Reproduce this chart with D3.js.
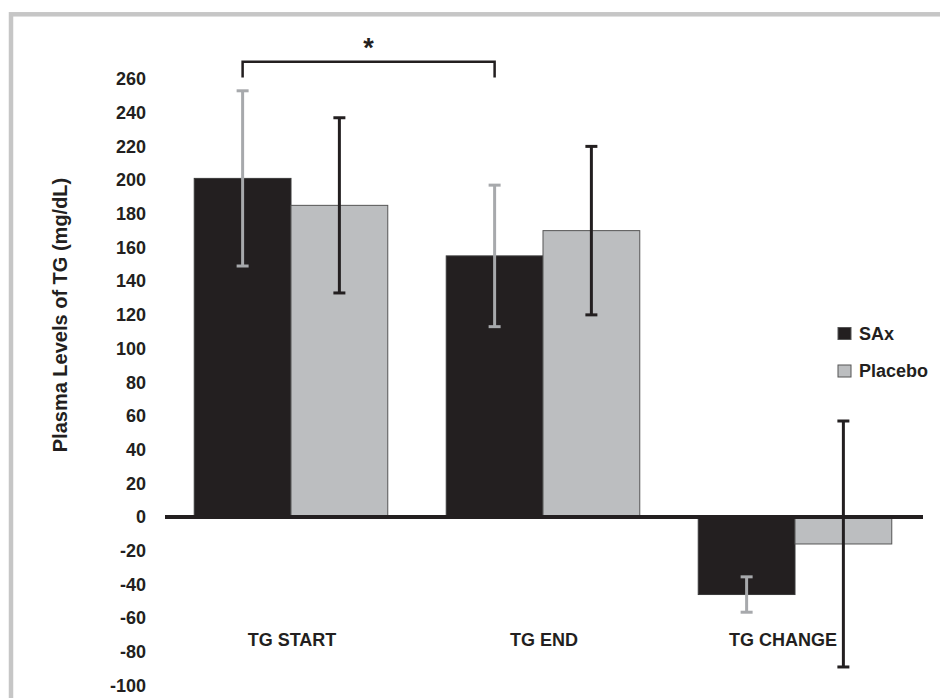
<html>
    <head>
        <meta charset="utf-8">
        <script src="https://d3js.org/d3.v7.min.js"></script>
        <style>
            body { margin: 0; background: #fff; }
            text { font-family: "Liberation Sans", Arial, sans-serif; font-weight: bold; fill: #231f20; }
        </style>
    </head>
    <body>
        <script type="text/javascript">
            // values (mean and error, mg/dL)
            const categories = ["TG START", "TG END", "TG CHANGE"];
            const seriesNames = ["SAx", "Placebo"];
            const saxMean = [201, 155, -46];
            const saxErr = [52, 42, 10.5];
            const placeboMean = [185, 170, -16];
            const placeboErr = [52, 50, 73];
            const yTicks = d3.range(-100, 261, 20);

            const width = 940;
            const height = 698;

            const fills = {SAx: "#231f20", Placebo: "#bcbec0"};
            const errColors = {SAx: "#a7a9ac", Placebo: "#231f20"};

            // build table from the arrays
            var rows = [];
            categories.forEach((c, i) => {
                rows.push({cat: c, series: "SAx", mean: saxMean[i], err: saxErr[i]});
                rows.push({cat: c, series: "Placebo", mean: placeboMean[i], err: placeboErr[i]});
            });

            const svg = d3.select('body')
                .append('svg')
                .attr('width', width)
                .attr('height', height);

            // grey frame round the figure
            svg.append("rect")
                .attr("x", 11)
                .attr("y", 14.3)
                .attr("width", 1000)
                .attr("height", 1000)
                .style("fill", "none")
                .style("stroke", "#c6c6c6")
                .style("stroke-width", 4.5);

            const x = d3.scaleBand()
                .domain(categories)
                .range([165, 921])
                .paddingInner(0.232)
                .paddingOuter(0.116);

            const xs = d3.scaleBand()
                .domain(seriesNames)
                .range([0, x.bandwidth()]);

            const y = d3.scaleLinear()
                .domain([-100, 260])
                .range([685.5, 79]);

            // y labels only, no axis line or ticks
            const yAxis = svg.append("g")
                .attr("transform", "translate(165,0)")
                .call(d3.axisLeft(y).tickValues(yTicks).tickFormat(d => String(d)).tickSize(0).tickPadding(19));
            yAxis.select(".domain").remove();
            yAxis.selectAll("text")
                .style("font-size", "18px")
                .style("font-family", "'Liberation Sans', Arial, sans-serif")
                .style("font-weight", "bold")
                .style("fill", "#231f20");

            svg.append("text")
                .attr("transform", "translate(67,315) rotate(-90)")
                .attr("text-anchor", "middle")
                .style("font-size", "20px")
                .text("Plasma Levels of TG (mg/dL)");

            // bars
            svg.selectAll("rect.bar")
                .data(rows)
                .enter()
                .append("rect")
                .attr("class", "bar")
                .attr("x", d => x(d.cat) + xs(d.series))
                .attr("width", xs.bandwidth())
                .attr("y", d => y(Math.max(0, d.mean)))
                .attr("height", d => Math.abs(y(d.mean) - y(0)))
                .style("fill", d => fills[d.series])
                .style("stroke", d => d.series == "SAx" ? "#3a3a3a" : "#555")
                .style("stroke-width", 1);

            // zero line
            svg.append("line")
                .attr("x1", x.range()[0])
                .attr("x2", x.range()[1] + 2)
                .attr("y1", y(0))
                .attr("y2", y(0))
                .style("stroke", "#231f20")
                .style("stroke-width", 4);

            // error bars
            var cx = d => x(d.cat) + xs(d.series) + xs.bandwidth() / 2;
            var eb = svg.selectAll("g.err")
                .data(rows)
                .enter()
                .append("g")
                .attr("class", "err")
                .style("stroke", d => errColors[d.series])
                .style("stroke-width", 3);
            eb.append("line")
                .attr("x1", cx).attr("x2", cx)
                .attr("y1", d => y(d.mean + d.err))
                .attr("y2", d => y(d.mean - d.err));
            eb.append("line")
                .attr("x1", d => cx(d) - 6).attr("x2", d => cx(d) + 6)
                .attr("y1", d => y(d.mean + d.err))
                .attr("y2", d => y(d.mean + d.err));
            eb.append("line")
                .attr("x1", d => cx(d) - 6).attr("x2", d => cx(d) + 6)
                .attr("y1", d => y(d.mean - d.err))
                .attr("y2", d => y(d.mean - d.err));

            // category labels (last one sits a bit left of its group, as in the original)
            svg.selectAll("text.cat")
                .data(categories)
                .enter()
                .append("text")
                .attr("class", "cat")
                .attr("x", d => x(d) + x.bandwidth() / 2)
                .attr("dx", (d, i) => i == categories.length - 1 ? -12 : 1)
                .attr("y", 646)
                .attr("text-anchor", "middle")
                .style("font-size", "18px")
                .text(d => d);

            // significance bracket between SAx start and SAx end
            var bx1 = x(categories[0]) + xs("SAx") + xs.bandwidth() / 2;
            var bx2 = x(categories[1]) + xs("SAx") + xs.bandwidth() / 2;
            svg.append("path")
                .attr("d", "M" + bx1 + " 77.5V61.7H" + bx2 + "V77.5")
                .style("fill", "none")
                .style("stroke", "#231f20")
                .style("stroke-width", 2.5);
            svg.append("text")
                .attr("x", (bx1 + bx2) / 2)
                .attr("y", 57)
                .attr("text-anchor", "middle")
                .style("font-size", "27px")
                .text("*");

            // legend
            var legend = svg.selectAll("g.legend")
                .data(seriesNames)
                .enter()
                .append("g")
                .attr("class", "legend")
                .attr("transform", (d, i) => "translate(838," + (327.5 + i * 37.5) + ")");
            legend.append("rect")
                .attr("width", 13)
                .attr("height", 12)
                .style("fill", d => fills[d])
                .style("stroke", "#555")
                .style("stroke-width", 1);
            legend.append("text")
                .attr("x", 21)
                .attr("y", 12)
                .style("font-size", "18px")
                .text(d => d);
        </script>
    </body>
</html>
